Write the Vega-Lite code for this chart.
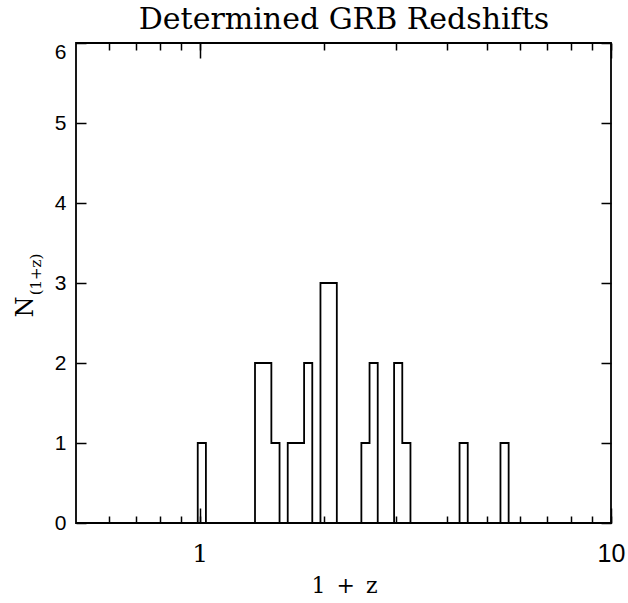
{
  "$schema": "https://vega.github.io/schema/vega-lite/v6.json",
  "width": 535,
  "height": 480,
  "autosize": {"type": "none"},
  "padding": {"left": 76, "top": 43, "right": 17, "bottom": 80},
  "background": "white",
  "config": {
    "view": {"stroke": "black", "strokeWidth": 1.8},
    "axis": {
      "domain": false,
      "grid": false,
      "tickColor": "black",
      "tickWidth": 1.5,
      "labelColor": "black",
      "titleColor": "black",
      "titleFontWeight": "normal",
      "labelFlush": false,
      "labelOverlap": false,
      "labelBound": false
    }
  },
  "data": {
    "values": [
      {"bin_start": 0.9443, "count": 0},
      {"bin_start": 0.9886, "count": 1},
      {"bin_start": 1.0349, "count": 0},
      {"bin_start": 1.0834, "count": 0},
      {"bin_start": 1.1342, "count": 0},
      {"bin_start": 1.1874, "count": 0},
      {"bin_start": 1.2430, "count": 0},
      {"bin_start": 1.3013, "count": 0},
      {"bin_start": 1.3623, "count": 2},
      {"bin_start": 1.4262, "count": 2},
      {"bin_start": 1.4930, "count": 1},
      {"bin_start": 1.5630, "count": 0},
      {"bin_start": 1.6363, "count": 1},
      {"bin_start": 1.7130, "count": 1},
      {"bin_start": 1.7933, "count": 2},
      {"bin_start": 1.8774, "count": 0},
      {"bin_start": 1.9654, "count": 3},
      {"bin_start": 2.0575, "count": 3},
      {"bin_start": 2.1540, "count": 0},
      {"bin_start": 2.2550, "count": 0},
      {"bin_start": 2.3607, "count": 0},
      {"bin_start": 2.4714, "count": 1},
      {"bin_start": 2.5872, "count": 2},
      {"bin_start": 2.7085, "count": 0},
      {"bin_start": 2.8355, "count": 0},
      {"bin_start": 2.9684, "count": 2},
      {"bin_start": 3.1076, "count": 1},
      {"bin_start": 3.2533, "count": 0},
      {"bin_start": 3.4058, "count": 0},
      {"bin_start": 3.5655, "count": 0},
      {"bin_start": 3.7326, "count": 0},
      {"bin_start": 3.9076, "count": 0},
      {"bin_start": 4.0908, "count": 0},
      {"bin_start": 4.2826, "count": 1},
      {"bin_start": 4.4833, "count": 0},
      {"bin_start": 4.6935, "count": 0},
      {"bin_start": 4.9136, "count": 0},
      {"bin_start": 5.1440, "count": 0},
      {"bin_start": 5.3851, "count": 1},
      {"bin_start": 5.6376, "count": 0}
    ]
  },
  "resolve": {"axis": {"x": "independent", "y": "independent"}},
  "layer": [
    {
      "mark": {"type": "line", "interpolate": "step-after", "color": "black", "strokeWidth": 1.8},
      "encoding": {
        "x": {
          "field": "bin_start",
          "type": "quantitative",
          "scale": {"type": "log", "domain": [0.5, 10], "nice": false},
          "axis": {
            "orient": "bottom",
            "values": [0.6, 0.7, 0.8, 0.9, 1, 2, 3, 4, 5, 6, 7, 8, 9, 10],
            "tickSize": -7,
            "labelExpr": "datum.value == 1 ? '1' : (datum.value == 10 ? '10' : '')",
            "labelFont": {"condition": {"test": "datum.value == 1", "value": "DejaVu Serif"}, "value": "Liberation Sans"},
            "labelFontSize": 25,
            "labelBaseline": "top",
            "labelPadding": 25,
            "title": "1\u2002+\u2002z",
            "titleFont": "DejaVu Serif",
            "titleFontSize": 22,
            "titleX": 268,
            "titleY": 69,
            "titleAlign": "center",
            "titleBaseline": "alphabetic"
          }
        },
        "y": {
          "field": "count",
          "type": "quantitative",
          "scale": {"domain": [0, 6], "nice": false},
          "axis": {
            "orient": "left",
            "values": [0, 1, 2, 3, 4, 5, 6],
            "tickSize": -10,
            "labelFont": "Liberation Sans",
            "labelFontSize": 21,
            "labelPadding": 20,
            "labelBaseline": "middle",
            "labelOffset": {"condition": {"test": "datum.value == 6", "value": 9}, "value": 0},
            "title": "N",
            "titleFont": "DejaVu Serif",
            "titleFontSize": 24,
            "titleAngle": -90,
            "titleX": -44,
            "titleY": 263.5,
            "titleAlign": "center",
            "titleBaseline": "alphabetic"
          }
        }
      }
    },
    {
      "mark": {"type": "line", "interpolate": "step-after", "strokeOpacity": 0},
      "encoding": {
        "x": {
          "field": "bin_start",
          "type": "quantitative",
          "scale": {"type": "log", "domain": [0.5, 10], "nice": false},
          "axis": {"orient": "bottom", "values": [1, 10], "tickSize": -15, "labels": false, "title": null}
        },
        "y": {
          "field": "count",
          "type": "quantitative",
          "scale": {"domain": [0, 6], "nice": false},
          "axis": {"orient": "right", "values": [0, 1, 2, 3, 4, 5, 6], "tickSize": -10, "labels": false, "title": null}
        }
      }
    },
    {
      "mark": {"type": "line", "interpolate": "step-after", "strokeOpacity": 0},
      "encoding": {
        "x": {
          "field": "bin_start",
          "type": "quantitative",
          "scale": {"type": "log", "domain": [0.5, 10], "nice": false},
          "axis": {
            "orient": "top",
            "values": [0.6, 0.7, 0.8, 0.9, 1, 2, 3, 4, 5, 6, 7, 8, 9, 10],
            "tickSize": -7,
            "labels": false,
            "title": "(1+z)",
            "titleFont": "DejaVu Serif",
            "titleFontSize": 15,
            "titleAngle": -90,
            "titleX": -36,
            "titleY": 231,
            "titleAlign": "center",
            "titleBaseline": "alphabetic"
          }
        },
        "y": {
          "field": "count",
          "type": "quantitative",
          "scale": {"domain": [0, 6], "nice": false},
          "axis": null
        }
      }
    },
    {
      "mark": {"type": "line", "interpolate": "step-after", "strokeOpacity": 0},
      "encoding": {
        "x": {
          "field": "bin_start",
          "type": "quantitative",
          "scale": {"type": "log", "domain": [0.5, 10], "nice": false},
          "axis": {
            "orient": "top",
            "values": [1, 10],
            "tickSize": -15,
            "labels": false,
            "title": "Determined GRB Redshifts",
            "titleFont": "DejaVu Serif",
            "titleFontSize": 30,
            "titleX": 267.5,
            "titleY": -15,
            "titleAlign": "center",
            "titleBaseline": "alphabetic"
          }
        },
        "y": {
          "field": "count",
          "type": "quantitative",
          "scale": {"domain": [0, 6], "nice": false},
          "axis": null
        }
      }
    }
  ]
}
